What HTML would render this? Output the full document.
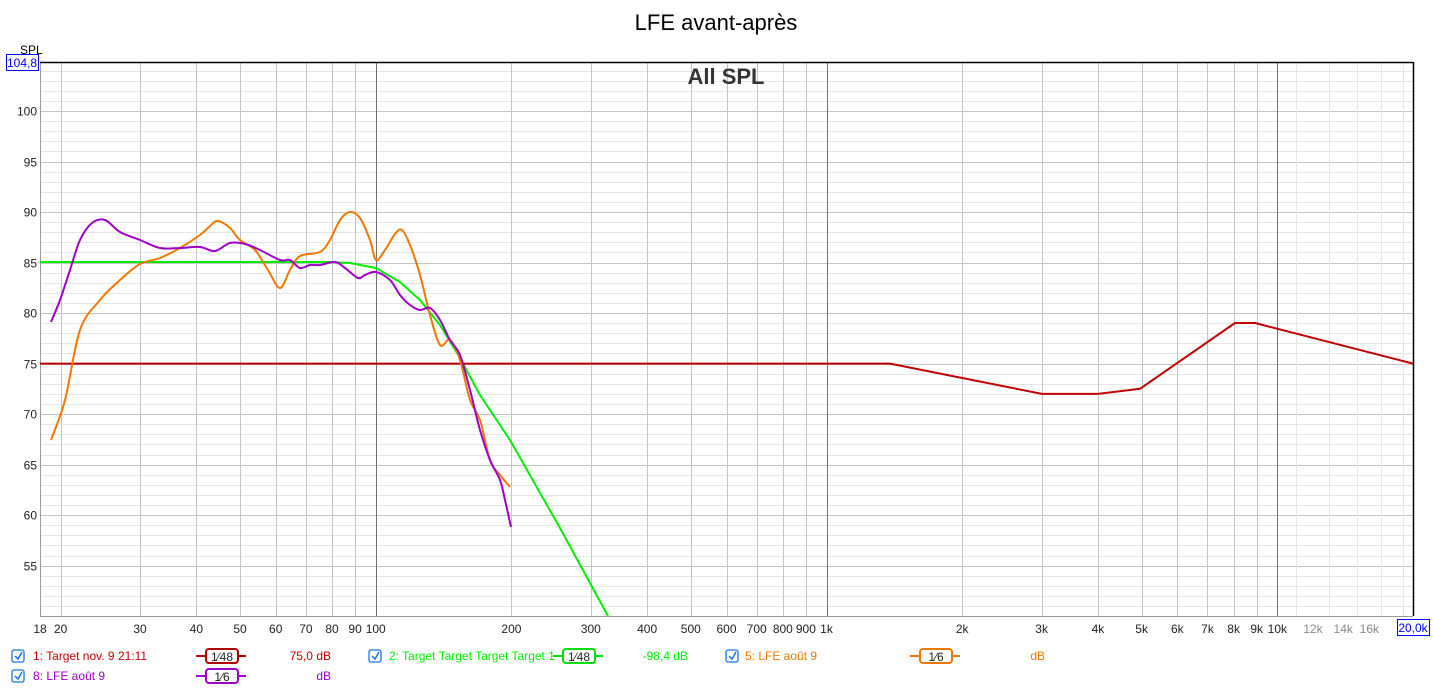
<!DOCTYPE html>
<html><head><meta charset="utf-8"><style>
body{margin:0;background:#fff;width:1433px;height:688px;overflow:hidden;font-family:"Liberation Sans",sans-serif}
svg{position:absolute;left:0;top:0}
</style></head><body>
<svg id="s" width="1433" height="688" xmlns="http://www.w3.org/2000/svg" font-family="Liberation Sans, sans-serif">
<text x="716" y="30" font-size="22" text-anchor="middle" fill="#000">LFE avant-après</text>
<g id="grid"></g>
<g id="curves" fill="none" stroke-width="2" stroke-linejoin="round">
<polyline stroke="#00ee00" points="40,262 330,262 350,263 376,268 400,282 420,300 440,325 460,358 480,395 510,440 560,528 608,616"/>
<polyline stroke="#c00000" points="40,363.6 890,363.6 1042,393.9 1098,393.9 1140,388.8 1235,323 1255,323 1413,363.6"/>
</g>
<text x="726" y="84" font-size="22" font-weight="bold" text-anchor="middle" fill="#333">All SPL</text>
<text x="20" y="54" font-size="12" fill="#000">SPL</text>
<rect x="6.5" y="54.5" width="32" height="16" fill="#fff" stroke="#0000ff"/>
<text x="22" y="67" font-size="12" fill="#0000ff" text-anchor="middle">104,8</text>
<rect x="1397.5" y="619.5" width="32" height="16" fill="#fff" stroke="#0000ff"/>
<text x="1413" y="632" font-size="12" fill="#0000ff" text-anchor="middle">20,0k</text>
<g id="leg" font-size="12"></g>
</svg>
<script>
const NS="http://www.w3.org/2000/svg";
function el(p,t,a,txt){const e=document.createElementNS(NS,t);for(const k in a)e.setAttribute(k,a[k]);if(txt!==undefined)e.textContent=txt;p.appendChild(e);return e;}
const g=document.getElementById('grid');
const X=f=>40+450.8*Math.log10(f/18);
const Y=v=>111+(100-v)*10.104;
for(let v=51;v<=104;v++){const y=Math.round(Y(v))+0.5;el(g,'line',{x1:40,x2:1413,y1:y,y2:y,stroke:v%5==0?'#c4c4c4':'#e6e6e6','stroke-width':1});
 if(v%5==0&&v<=100)el(g,'text',{x:37,y:y+4,'font-size':12,'text-anchor':'end',fill:'#222'},String(v));}
const fs=[];
for(let d of [10,100,1000,10000])for(let m=1;m<10;m++){const f=d*m;if(f>=20&&f<=20000)fs.push(f);}
fs.forEach(f=>{const x=Math.round(X(f))+0.5;const dark=(f==100||f==1000||f==10000);
 el(g,'line',{x1:x,x2:x,y1:62,y2:616,stroke:dark?'#707070':(f>10000?'#dcdcdc':'#c4c4c4'),'stroke-width':1});});
[11000,13000,15000,17000,19000].forEach(f=>{const x=Math.round(X(f))+0.5;el(g,'line',{x1:x,x2:x,y1:62,y2:616,stroke:'#e6e6e6'});});
const labs=[[18,'18'],[20,'20'],[30,'30'],[40,'40'],[50,'50'],[60,'60'],[70,'70'],[80,'80'],[90,'90'],[100,'100'],[200,'200'],[300,'300'],[400,'400'],[500,'500'],[600,'600'],[700,'700'],[800,'800'],[900,'900'],[1000,'1k'],[2000,'2k'],[3000,'3k'],[4000,'4k'],[5000,'5k'],[6000,'6k'],[7000,'7k'],[8000,'8k'],[9000,'9k'],[10000,'10k'],[12000,'12k'],[14000,'14k'],[16000,'16k']];
labs.forEach(([f,t])=>el(g,'text',{x:X(f),y:633,'font-size':12,'text-anchor':'middle',fill:f>10000?'#888':'#222'},t));
el(g,'line',{x1:40.5,x2:40.5,y1:62,y2:616,stroke:'#999'});
el(g,'line',{x1:40,x2:1413,y1:616.5,y2:616.5,stroke:'#999'});
el(g,'line',{x1:40,x2:1413,y1:62.5,y2:62.5,stroke:'#000','stroke-width':1.5});
el(g,'line',{x1:1413.5,x2:1413.5,y1:62,y2:616,stroke:'#000','stroke-width':1.5});
// smooth curves
function smooth(pts){let d=`M${pts[0][0]} ${pts[0][1]}`;for(let i=0;i<pts.length-1;i++){const p0=pts[Math.max(0,i-1)],p1=pts[i],p2=pts[i+1],p3=pts[Math.min(pts.length-1,i+2)];
 d+=` C${p1[0]+(p2[0]-p0[0])/6} ${p1[1]+(p2[1]-p0[1])/6} ${p2[0]-(p3[0]-p1[0])/6} ${p2[1]-(p3[1]-p1[1])/6} ${p2[0]} ${p2[1]}`;}return d;}
const C=document.getElementById('curves');
const orange=[[51,440],[65,400],[80,330],[100,300],[120,280],[140,264],[160,258],[180,248],[200,235],[210,226],[218,221],[230,228],[240,240],[255,250],[268,270],[280,288],[290,270],[300,256],[320,252],[330,240],[340,220],[350,212],[360,218],[370,240],[376,260],[385,250],[395,234],[402,230],[410,245],[420,275],[430,315],[440,345],[450,340],[460,360],[470,400],[480,420],[490,460],[500,475],[510,487]];
const purple=[[51,322],[60,300],[70,270],[80,240],[92,223],[105,220],[120,232],[140,240],[160,248],[180,248],[200,247],[215,251],[230,243],[245,244],[260,250],[280,260],[290,260],[300,268],[310,265],[320,265],[335,262],[345,268],[358,278],[365,275],[376,272],[390,280],[400,295],[410,305],[420,310],[430,308],[440,320],[450,340],[460,355],[470,390],[480,430],[490,460],[500,480],[505,500],[511,527]];
el(C,'path',{d:smooth(orange),stroke:'#f07800'});
el(C,'path',{d:smooth(purple),stroke:'#a000c8'});
const L=document.getElementById('leg');
function cb(x,y){el(L,'rect',{x:x,y:y-6,width:12,height:12,rx:2,fill:'#fff',stroke:'#1a73e8','stroke-width':1.3});el(L,'path',{d:`M${x+3} ${y} l3 3 l4 -7`,stroke:'#1a73e8','stroke-width':1.5,fill:'none'});}
function sym(x,y,c,den){el(L,'line',{x1:x,x2:x+50,y1:y,y2:y,stroke:c,'stroke-width':2});el(L,'rect',{x:x+10,y:y-7,width:32,height:14,rx:3,fill:'#fff',stroke:c,'stroke-width':2});
 el(L,'text',{x:x+26,y:y+5,'font-size':12,'text-anchor':'middle',fill:'#222'},'1⁄'+den);}
cb(12,656);el(L,'text',{x:33,y:660,fill:'#c00000'},'1: Target nov. 9 21:11');sym(196,656,'#b00000','48');el(L,'text',{x:331,y:660,fill:'#c00000','text-anchor':'end'},'75,0 dB');
cb(369,656);el(L,'text',{x:389,y:660,fill:'#00ee00'},'2: Target Target Target Target 1');sym(553,656,'#00e000','48');el(L,'text',{x:688,y:660,fill:'#00ee00','text-anchor':'end'},'-98,4 dB');
cb(726,656);el(L,'text',{x:745,y:660,fill:'#f07800'},'5: LFE août 9');sym(910,656,'#f07800','6');el(L,'text',{x:1045,y:660,fill:'#f07800','text-anchor':'end'},'dB');
cb(12,676);el(L,'text',{x:33,y:680,fill:'#a000c8'},'8: LFE août 9');sym(196,676,'#a000c8','6');el(L,'text',{x:331,y:680,fill:'#a000c8','text-anchor':'end'},'dB');
</script>
</body></html>
